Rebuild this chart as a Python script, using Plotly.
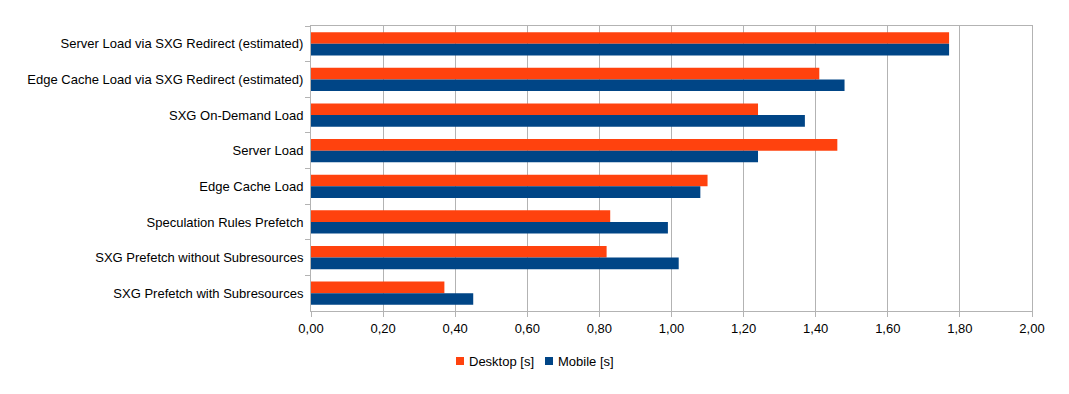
import plotly.graph_objects as go

categories = [
    "Server Load via SXG Redirect (estimated)",
    "Edge Cache Load via SXG Redirect (estimated)",
    "SXG On-Demand Load",
    "Server Load",
    "Edge Cache Load",
    "Speculation Rules Prefetch",
    "SXG Prefetch without Subresources",
    "SXG Prefetch with Subresources",
]
desktop = [1.77, 1.41, 1.24, 1.46, 1.10, 0.83, 0.82, 0.37]
mobile = [1.77, 1.48, 1.37, 1.24, 1.08, 0.99, 1.02, 0.45]

x_ticks = [0, 0.2, 0.4, 0.6, 0.8, 1.0, 1.2, 1.4, 1.6, 1.8, 2.0]

series_names = ["Desktop [s]", "Mobile [s]"]
series_colors = ["#ff420e", "#004586"]

W, H = 1061, 386
ML, MR, MT, MB = 303, 37, 18, 83
PW, PH = W - ML - MR, H - MT - MB

def px_to_paper(fx, fy):
    return (fx - ML) / PW, (H - MB - fy) / PH

fig = go.Figure()
for name, vals, col in zip(series_names, [desktop, mobile], series_colors):
    fig.add_trace(go.Bar(y=categories, x=vals, orientation="h", name=name,
                         marker=dict(color=col, line=dict(width=0))))

# manual legend with small square keys (LibreOffice style)
legend_key_x = [448, 537]
legend_y = 353
for kx, name, col in zip(legend_key_x, series_names, series_colors):
    x0, y0 = px_to_paper(kx, legend_y + 4)
    x1, y1 = px_to_paper(kx + 8, legend_y - 4)
    fig.add_shape(type="rect", xref="paper", yref="paper", x0=x0, x1=x1, y0=y0, y1=y1,
                  fillcolor=col, line=dict(width=0))
    tx, ty = px_to_paper(kx + 11, legend_y)
    fig.add_annotation(xref="paper", yref="paper", x=tx, y=ty, text=name,
                       showarrow=False, xanchor="left", yanchor="middle",
                       font=dict(size=13, color="#000000"))

fig.update_layout(
    width=W, height=H,
    margin=dict(l=ML, r=MR, t=MT, b=MB),
    paper_bgcolor="white", plot_bgcolor="white",
    font=dict(family="Liberation Sans, Arial, sans-serif", size=13, color="#000000"),
    separators=",.",
    barmode="group", bargap=0.35, bargroupgap=0,
    showlegend=False,
    xaxis=dict(range=[0, 2], tickvals=x_ticks, tickformat=".2f",
               showgrid=True, gridcolor="#b3b3b3", gridwidth=1,
               showline=True, linecolor="#b3b3b3", mirror=True,
               ticks="outside", ticklen=5, tickcolor="#b3b3b3", zeroline=False),
    yaxis=dict(autorange="reversed", showgrid=False,
               showline=True, linecolor="#b3b3b3", mirror=True,
               ticks="outside", ticklen=5, tickcolor="#b3b3b3", tickson="boundaries",
               ticklabelstandoff=4),
)

fig.write_html("out.html")
